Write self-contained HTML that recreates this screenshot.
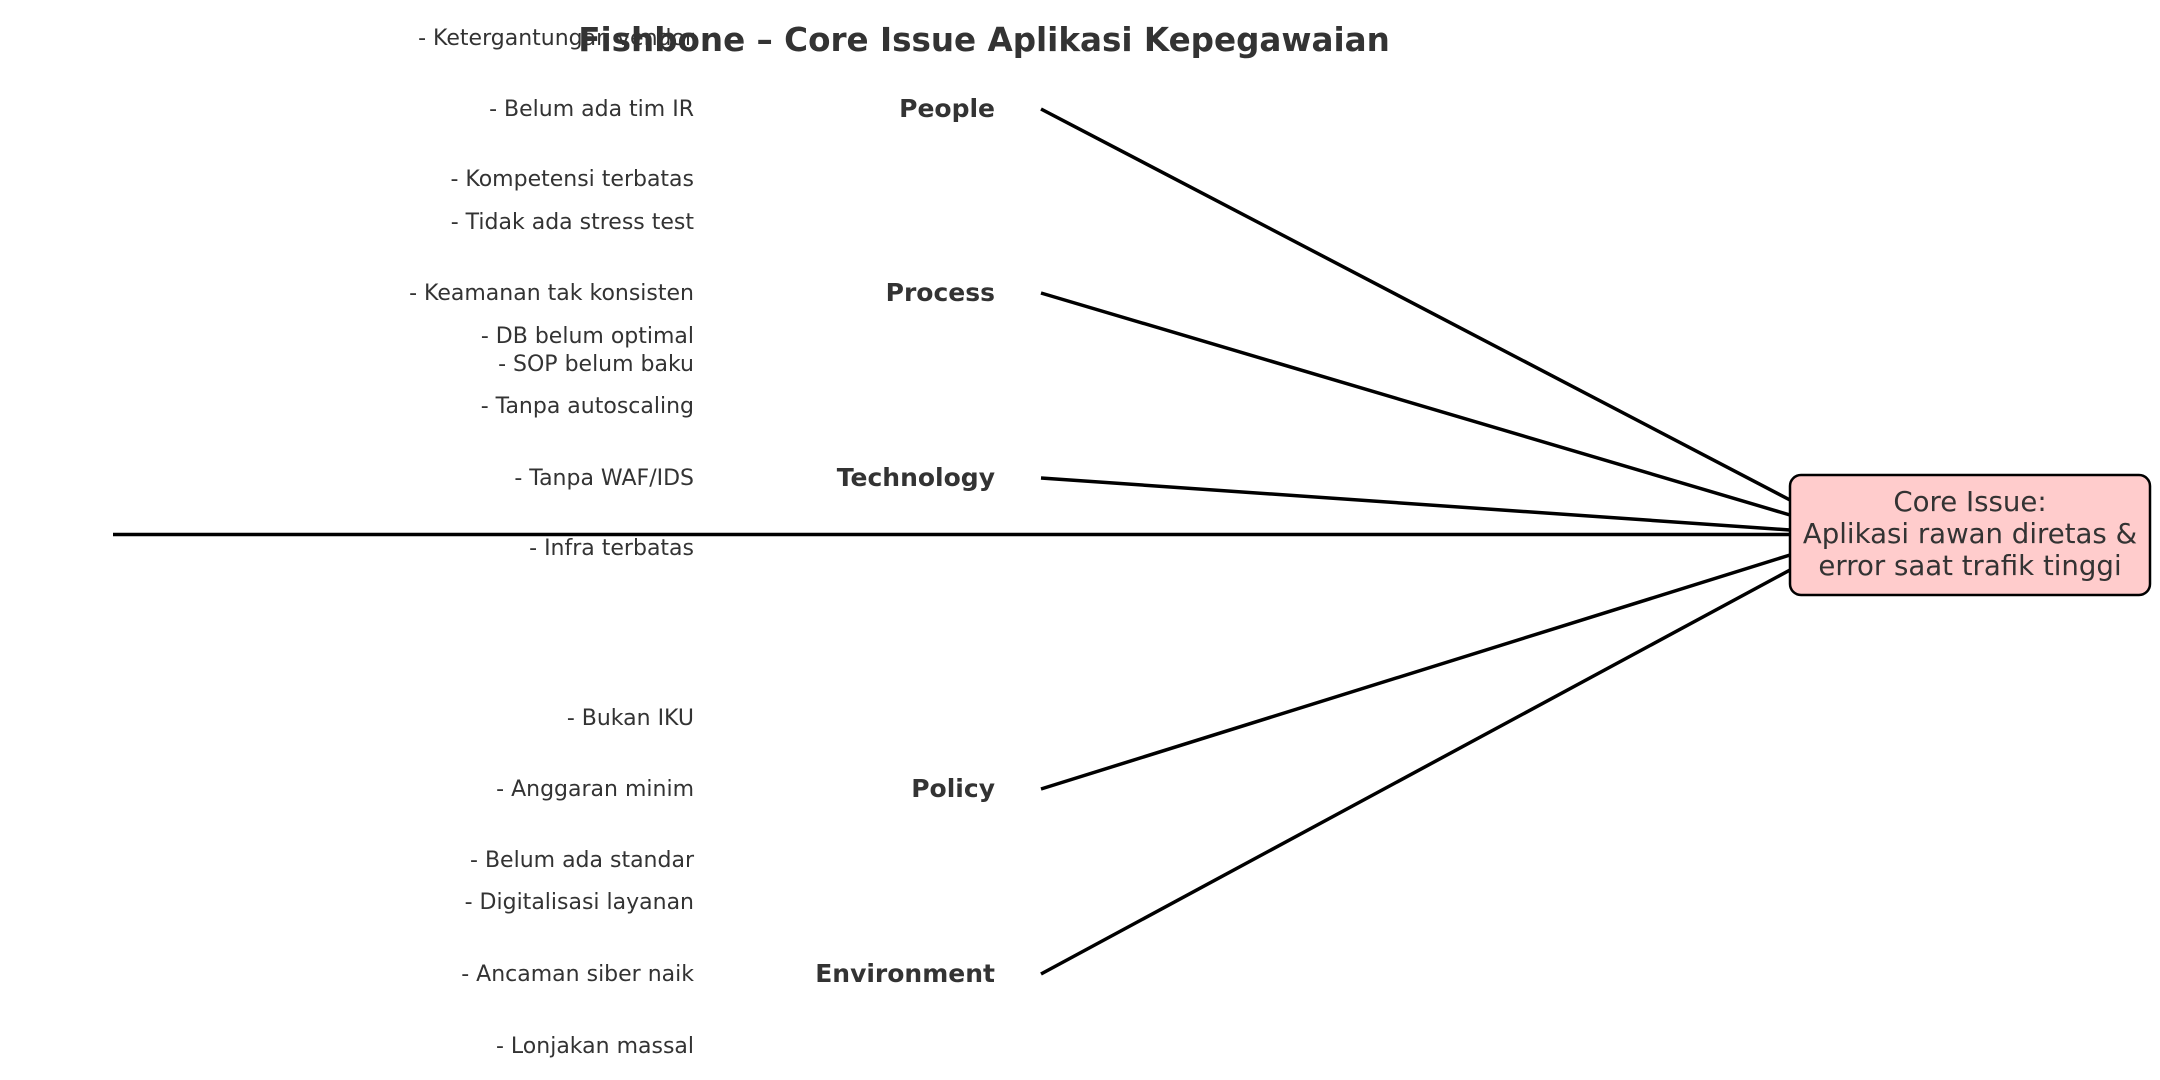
<!DOCTYPE html>
<html><head><meta charset="utf-8"><style>
html,body{margin:0;padding:0;background:#fff;}
svg{display:block;}
text{font-family:"DejaVu Sans","Liberation Sans",sans-serif;fill:#333;}
</style></head><body>
<svg width="2160" height="1080" viewBox="0 0 2160 1080">
<g stroke="#000" stroke-width="3.5" fill="none" stroke-linecap="butt">
<line x1="113" y1="534.5" x2="1790" y2="534.5"/>
<line x1="1041" y1="109" x2="1790" y2="500"/>
<line x1="1041" y1="293" x2="1790" y2="515"/>
<line x1="1041" y1="478" x2="1790" y2="530"/>
<line x1="1041" y1="789" x2="1790" y2="555"/>
<line x1="1041" y1="974" x2="1790" y2="570"/>
</g>
<rect x="1790" y="475" width="360" height="120" rx="11" ry="11" fill="#ffcccc" stroke="#000" stroke-width="2.5"/>
<g font-size="27.6" text-anchor="middle">
<text x="1970" y="511">Core Issue:</text>
<text x="1970" y="543">Aplikasi rawan diretas &amp;</text>
<text x="1970" y="575">error saat trafik tinggi</text>
</g>
<g font-size="22" text-anchor="end">
<text x="694" y="45">- Ketergantungan vendor</text>
<text x="694" y="116">- Belum ada tim IR</text>
<text x="694" y="186">- Kompetensi terbatas</text>
<text x="694" y="229">- Tidak ada stress test</text>
<text x="694" y="300">- Keamanan tak konsisten</text>
<text x="694" y="343">- DB belum optimal</text>
<text x="694" y="371">- SOP belum baku</text>
<text x="694" y="413">- Tanpa autoscaling</text>
<text x="694" y="485">- Tanpa WAF/IDS</text>
<text x="694" y="555">- Infra terbatas</text>
<text x="694" y="725">- Bukan IKU</text>
<text x="694" y="796">- Anggaran minim</text>
<text x="694" y="867">- Belum ada standar</text>
<text x="694" y="909">- Digitalisasi layanan</text>
<text x="694" y="981">- Ancaman siber naik</text>
<text x="694" y="1053">- Lonjakan massal</text>
</g>
<g font-size="25" font-weight="bold" text-anchor="end">
<text x="995" y="117">People</text>
<text x="995" y="301">Process</text>
<text x="995" y="486">Technology</text>
<text x="995" y="797">Policy</text>
<text x="995" y="982">Environment</text>
</g>
<text x="984" y="51" font-size="32.6" font-weight="bold" text-anchor="middle">Fishbone – Core Issue Aplikasi Kepegawaian</text>
</svg>
</body></html>
